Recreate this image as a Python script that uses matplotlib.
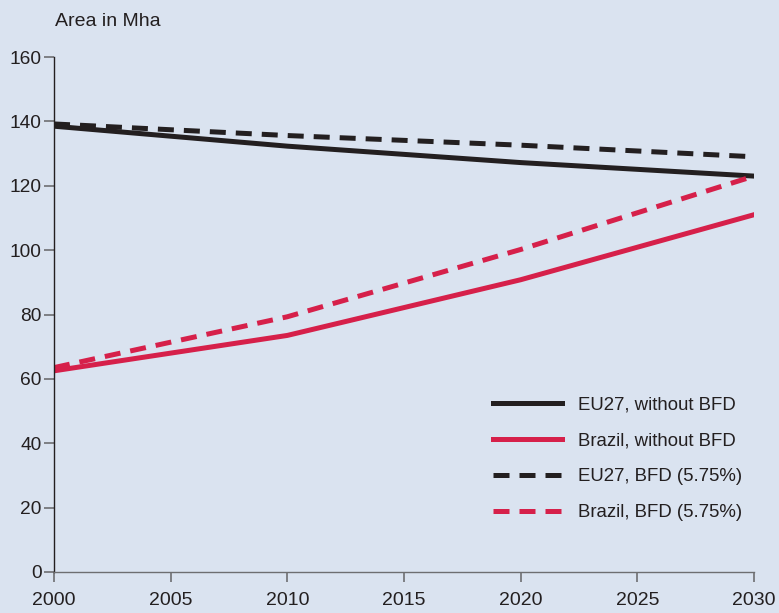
import matplotlib.pyplot as plt

plt.rcParams['font.family'] = ['Liberation Sans', 'DejaVu Sans']

# data
years = [2000, 2010, 2020, 2030]
eu27_no_bfd = [138.5, 132.3, 127.2, 123.0]
brazil_no_bfd = [62.5, 73.5, 90.8, 111.0]
eu27_bfd = [139.2, 135.6, 132.6, 129.0]
brazil_bfd = [63.5, 79.3, 100.2, 123.0]

bg = "#dae3f0"
black = "#231f20"
red = "#d6204a"

fig = plt.figure(figsize=(7.79, 6.13), dpi=100, facecolor=bg)
ax = fig.add_axes([54/779, 1 - 572/613, 700/779, 515/613], facecolor=bg)

lw = 3.6
ax.plot(years, eu27_no_bfd, color=black, lw=lw, label="EU27, without BFD")
ax.plot(years, brazil_no_bfd, color=red, lw=lw, label="Brazil, without BFD")
ax.plot(years, eu27_bfd, color=black, lw=lw, dashes=(3.2, 2.0), label="EU27, BFD (5.75%)")
ax.plot(years, brazil_bfd, color=red, lw=lw, dashes=(3.2, 2.0), label="Brazil, BFD (5.75%)")

ax.set_xlim(2000, 2030)
ax.set_ylim(0, 160)
ax.set_xticks(range(2000, 2031, 5))
ax.set_yticks(range(0, 161, 20))

for s in ["top", "right"]:
    ax.spines[s].set_visible(False)
ax.spines["left"].set_color(black)
ax.spines["bottom"].set_color("#6d6e71")
for s in ["left", "bottom"]:
    ax.spines[s].set_linewidth(1.0)

ax.tick_params(axis="both", colors="#6d6e71", labelcolor=black,
               length=7, width=1.2)
ax.tick_params(axis="x", pad=7.5, labelsize=14)
ax.tick_params(axis="y", pad=2, labelsize=13.8)

fig.text(55/779, 1 - 21/613, "Area in Mha", fontsize=14, color=black, va="center")

leg = ax.legend(loc="lower right", bbox_to_anchor=(1.007, 0.066), frameon=False,
                fontsize=13.4, handlelength=3.7, labelspacing=1.02, handletextpad=0.86)
for t in leg.get_texts():
    t.set_color(black)

fig.savefig("out.png", dpi=100, facecolor=bg)
